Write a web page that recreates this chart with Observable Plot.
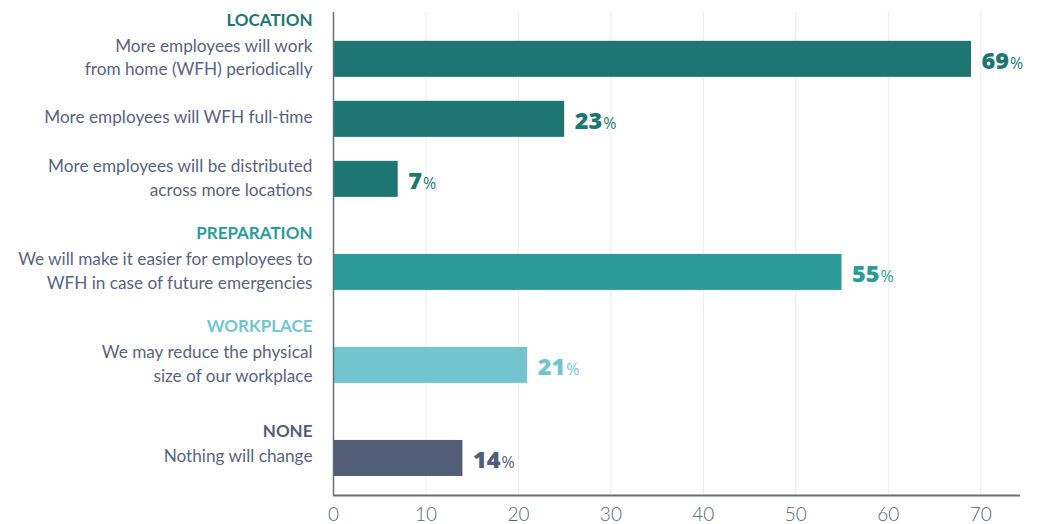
<!DOCTYPE html>
<html>
<head>
<meta charset="utf-8">
<script src="https://cdn.jsdelivr.net/npm/d3@7"></script>
<script src="https://cdn.jsdelivr.net/npm/@observablehq/plot@0.6"></script>
<style>
  html, body { margin: 0; padding: 0; background: #fff; }
  #chart svg { display: block; overflow: visible; }
</style>
</head>
<body>
<div id="chart"></div>
<script>
// ---- data ----
const groups = ["LOCATION", "PREPARATION", "WORKPLACE", "NONE"];
const groupColors = ["#1e7673", "#2d9a9a", "#72c5cf", "#525d77"];
const answers = [
  "More employees will work\nfrom home (WFH) periodically",
  "More employees will WFH full-time",
  "More employees will be distributed\nacross more locations",
  "We will make it easier for employees to\nWFH in case of future emergencies",
  "We may reduce the physical\nsize of our workplace",
  "Nothing will change"
];
const answerGroup = ["LOCATION", "LOCATION", "LOCATION", "PREPARATION", "WORKPLACE", "NONE"];
const barValues = [69, 25, 7, 55, 21, 14];      // bar lengths as drawn
const labelValues = [69, 23, 7, 55, 21, 14];    // printed percentages
const xTicks = [0, 10, 20, 30, 40, 50, 60, 70];

// ---- layout derived from structure (row index within groups + group gaps) ----
const GAP = 0.55;
const rows = answers.map((a, i) => {
  const g = groups.indexOf(answerGroup[i]);
  return {
    answer: a,
    group: answerGroup[i],
    color: groupColors[g],
    value: barValues[i],
    label: String(labelValues[i]),
    pos: i + g * GAP,
    lines: a.split("\n").length,
    first: i === answerGroup.indexOf(answerGroup[i])
  };
});
const lastPos = rows[rows.length - 1].pos;
const yBottom = lastPos + 0.617;

const labelFont = "Lato, 'Source Sans Pro', sans-serif";
const textColor = "#58647e";

const answerMark = (n, dy) => Plot.text(rows.filter(d => d.lines === n), {
  x: 0, y: "pos", text: "answer", dx: -21, dy,
  textAnchor: "end", lineAnchor: "middle", lineHeight: 1.36,
  fontSize: 17.2, fill: textColor
});
const headerMark = (n, dy) => Plot.text(rows.filter(d => d.first && d.lines === n), {
  x: 0, y: "pos", text: "group", dx: -21, dy,
  textAnchor: "end", lineAnchor: "bottom",
  fontSize: 17, fontWeight: 700, fill: "color"
});

const plot = Plot.plot({
  width: 1040,
  height: 524,
  marginLeft: 333,
  marginRight: 20,
  marginTop: 12,
  marginBottom: 29,
  style: { fontFamily: labelFont, background: "#fff" },
  x: { domain: [0, 74.3], axis: null },
  y: { domain: [-0.78, yBottom], reverse: true, axis: null },
  marks: [
    Plot.ruleX(xTicks.filter(d => d > 0), { stroke: "#ebebeb", strokeWidth: 1 }),
    Plot.rect(rows, {
      x1: 0, x2: "value",
      y1: d => d.pos - 0.3, y2: d => d.pos + 0.3,
      fill: "color"
    }),
    Plot.ruleX([0], { stroke: "#6d6d6d", strokeWidth: 1.5 }),
    Plot.ruleY([yBottom], { stroke: "#6d6d6d", strokeWidth: 2 }),
    Plot.text(xTicks, {
      x: d => d, y: yBottom, text: d => String(d),
      dy: 19, fontSize: 19, fill: textColor, fontWeight: 300, textAnchor: "middle"
    }),
    // answer labels
    answerMark(1, -4),
    answerMark(2, -3),
    // group headers
    headerMark(1, -4 - 11.5 - 6),
    headerMark(2, -3 - 23 - 7),
    // value labels
    Plot.text(rows, {
      x: "value", y: "pos", text: "label", dx: 10, dy: 2,
      textAnchor: "start", lineAnchor: "middle",
      fontSize: 23.5, fontWeight: 800, fill: "color",
      fontFamily: "'Open Sans', sans-serif",
      className: "vlabel"
    })
  ]
});

document.getElementById("chart").appendChild(plot);

// append the smaller percent sign to each value label
d3.select(plot).selectAll("g.vlabel text").each(function () {
  const t = d3.select(this);
  const txt = t.text();
  t.text(null);
  t.append("tspan").text(txt);
  t.append("tspan").text("%")
    .attr("font-size", 16).attr("font-weight", 400).attr("dx", 1);
});
</script>
</body>
</html>
